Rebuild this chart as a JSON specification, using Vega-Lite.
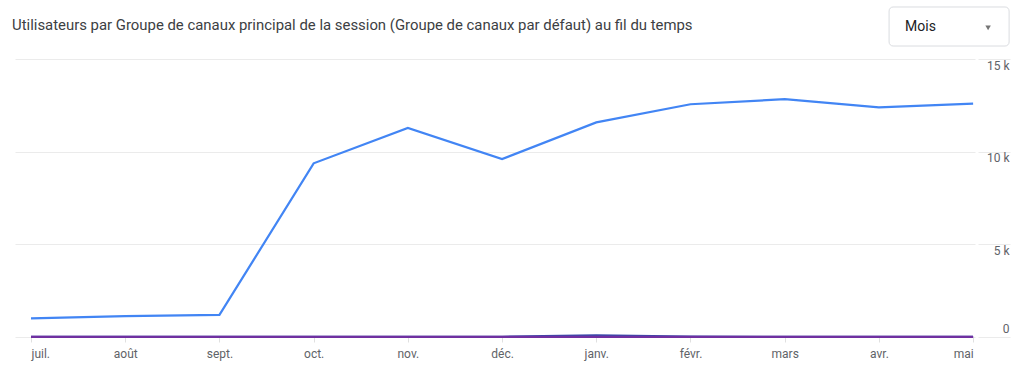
{
  "$schema": "https://vega.github.io/schema/vega-lite/v6.json",
  "width": 960,
  "height": 278,
  "autosize": {"type": "none"},
  "padding": {"left": 15, "top": 59, "right": 49, "bottom": 31},
  "background": "white",
  "title": {
    "text": "Utilisateurs par Groupe de canaux principal de la session (Groupe de canaux par défaut) au fil du temps",
    "anchor": "start",
    "frame": "group",
    "font": "Roboto",
    "fontSize": 14.9,
    "fontWeight": "normal",
    "color": "#3c4043",
    "baseline": "middle",
    "offset": -34,
    "dx": -3
  },
  "config": {
    "view": {"stroke": null},
    "font": "Roboto"
  },
  "layer": [
    {
      "data": {
        "values": [
          {"m": 0, "mois": "juil.", "canal": "Organic Search", "u": 1010},
          {"m": 1, "mois": "août", "canal": "Organic Search", "u": 1130},
          {"m": 2, "mois": "sept.", "canal": "Organic Search", "u": 1190},
          {"m": 3, "mois": "oct.", "canal": "Organic Search", "u": 9370},
          {"m": 4, "mois": "nov.", "canal": "Organic Search", "u": 11280},
          {"m": 5, "mois": "déc.", "canal": "Organic Search", "u": 9600},
          {"m": 6, "mois": "janv.", "canal": "Organic Search", "u": 11580},
          {"m": 7, "mois": "févr.", "canal": "Organic Search", "u": 12560},
          {"m": 8, "mois": "mars", "canal": "Organic Search", "u": 12830},
          {"m": 9, "mois": "avr.", "canal": "Organic Search", "u": 12390},
          {"m": 10, "mois": "mai", "canal": "Organic Search", "u": 12590},
          {"m": 0, "mois": "juil.", "canal": "Direct", "u": 8},
          {"m": 1, "mois": "août", "canal": "Direct", "u": 9},
          {"m": 2, "mois": "sept.", "canal": "Direct", "u": 9},
          {"m": 3, "mois": "oct.", "canal": "Direct", "u": 10},
          {"m": 4, "mois": "nov.", "canal": "Direct", "u": 12},
          {"m": 5, "mois": "déc.", "canal": "Direct", "u": 14},
          {"m": 6, "mois": "janv.", "canal": "Direct", "u": 95},
          {"m": 7, "mois": "févr.", "canal": "Direct", "u": 20},
          {"m": 8, "mois": "mars", "canal": "Direct", "u": 12},
          {"m": 9, "mois": "avr.", "canal": "Direct", "u": 10},
          {"m": 10, "mois": "mai", "canal": "Direct", "u": 10},
          {"m": 0, "mois": "juil.", "canal": "Referral", "u": 4},
          {"m": 1, "mois": "août", "canal": "Referral", "u": 4},
          {"m": 2, "mois": "sept.", "canal": "Referral", "u": 5},
          {"m": 3, "mois": "oct.", "canal": "Referral", "u": 5},
          {"m": 4, "mois": "nov.", "canal": "Referral", "u": 6},
          {"m": 5, "mois": "déc.", "canal": "Referral", "u": 5},
          {"m": 6, "mois": "janv.", "canal": "Referral", "u": 8},
          {"m": 7, "mois": "févr.", "canal": "Referral", "u": 6},
          {"m": 8, "mois": "mars", "canal": "Referral", "u": 5},
          {"m": 9, "mois": "avr.", "canal": "Referral", "u": 5},
          {"m": 10, "mois": "mai", "canal": "Referral", "u": 6}
        ]
      },
      "mark": {"type": "line", "strokeWidth": 2.2, "interpolate": "linear"},
      "encoding": {
        "x": {
          "field": "m",
          "type": "quantitative",
          "scale": {"domain": [-0.17, 10.02], "nice": false, "zero": false},
          "axis": {
            "title": null,
            "values": [0, 1, 2, 3, 4, 5, 6, 7, 8, 9, 10],
            "labelExpr": "['juil.','août','sept.','oct.','nov.','déc.','janv.','févr.','mars','avr.','mai'][datum.value]",
            "grid": false,
            "domain": false,
            "ticks": true,
            "tickSize": 5,
            "tickColor": "#e0e0e0",
            "labelFlush": false,
            "labelAlign": {"condition": [{"test": "datum.value == 0", "value": "left"}, {"test": "datum.value == 10", "value": "right"}], "value": "center"},
            "labelFont": "Roboto",
            "labelFontSize": 12,
            "labelColor": "#5f6368",
            "labelPadding": 6
          }
        },
        "y": {
          "field": "u",
          "type": "quantitative",
          "scale": {"domain": [0, 15000], "nice": false},
          "axis": {
            "orient": "right",
            "title": null,
            "values": [0, 5000, 10000, 15000],
            "labelExpr": "datum.value == 0 ? '0' : (datum.value / 1000) + ' k'",
            "grid": true,
            "gridColor": "#ebebeb",
            "domain": false,
            "offset": 3,
            "tickSize": 32,
            "tickColor": "#ebebeb",
            "labelAlign": "right",
            "labelPadding": -1,
            "labelBaseline": {"condition": {"test": "datum.value == 0", "value": "bottom"}, "value": "top"},
            "labelOffset": {"condition": {"test": "datum.value == 0", "value": -2}, "value": 1},
            "labelFont": "Roboto",
            "labelFontSize": 12,
            "labelColor": "#5f6368"
          }
        },
        "color": {
          "field": "canal",
          "type": "nominal",
          "scale": {"domain": ["Organic Search", "Direct", "Referral"], "range": ["#4285f4", "#3949ab", "#7030a0"]},
          "legend": null
        }
      }
    },
    {
      "data": {"values": [{"x1": 9.108, "x2": 10.382, "y1": 15701, "y2": 17806}]},
      "mark": {"type": "rect", "fill": "white", "stroke": "#dadce0", "strokeWidth": 1, "cornerRadius": 4, "clip": false},
      "encoding": {
        "x": {"field": "x1", "type": "quantitative", "scale": {"domain": [-0.17, 10.02], "nice": false, "zero": false}},
        "x2": {"field": "x2"},
        "y": {"field": "y1", "type": "quantitative", "scale": {"domain": [0, 15000], "nice": false}},
        "y2": {"field": "y2"}
      }
    },
    {
      "data": {"values": [{"x": 9.278, "y": 16727, "t": "Mois"}]},
      "mark": {"type": "text", "align": "left", "baseline": "middle", "font": "Roboto", "fontSize": 14, "color": "#202124", "clip": false},
      "encoding": {
        "x": {"field": "x", "type": "quantitative", "scale": {"domain": [-0.17, 10.02], "nice": false, "zero": false}},
        "y": {"field": "y", "type": "quantitative", "scale": {"domain": [0, 15000], "nice": false}},
        "text": {"field": "t"}
      }
    },
    {
      "data": {"values": [{"x": 10.159, "y": 16673}]},
      "mark": {"type": "point", "shape": "triangle-down", "filled": true, "size": 30, "color": "#757575", "opacity": 1, "clip": false},
      "encoding": {
        "x": {"field": "x", "type": "quantitative", "scale": {"domain": [-0.17, 10.02], "nice": false, "zero": false}},
        "y": {"field": "y", "type": "quantitative", "scale": {"domain": [0, 15000], "nice": false}}
      }
    }
  ]
}
